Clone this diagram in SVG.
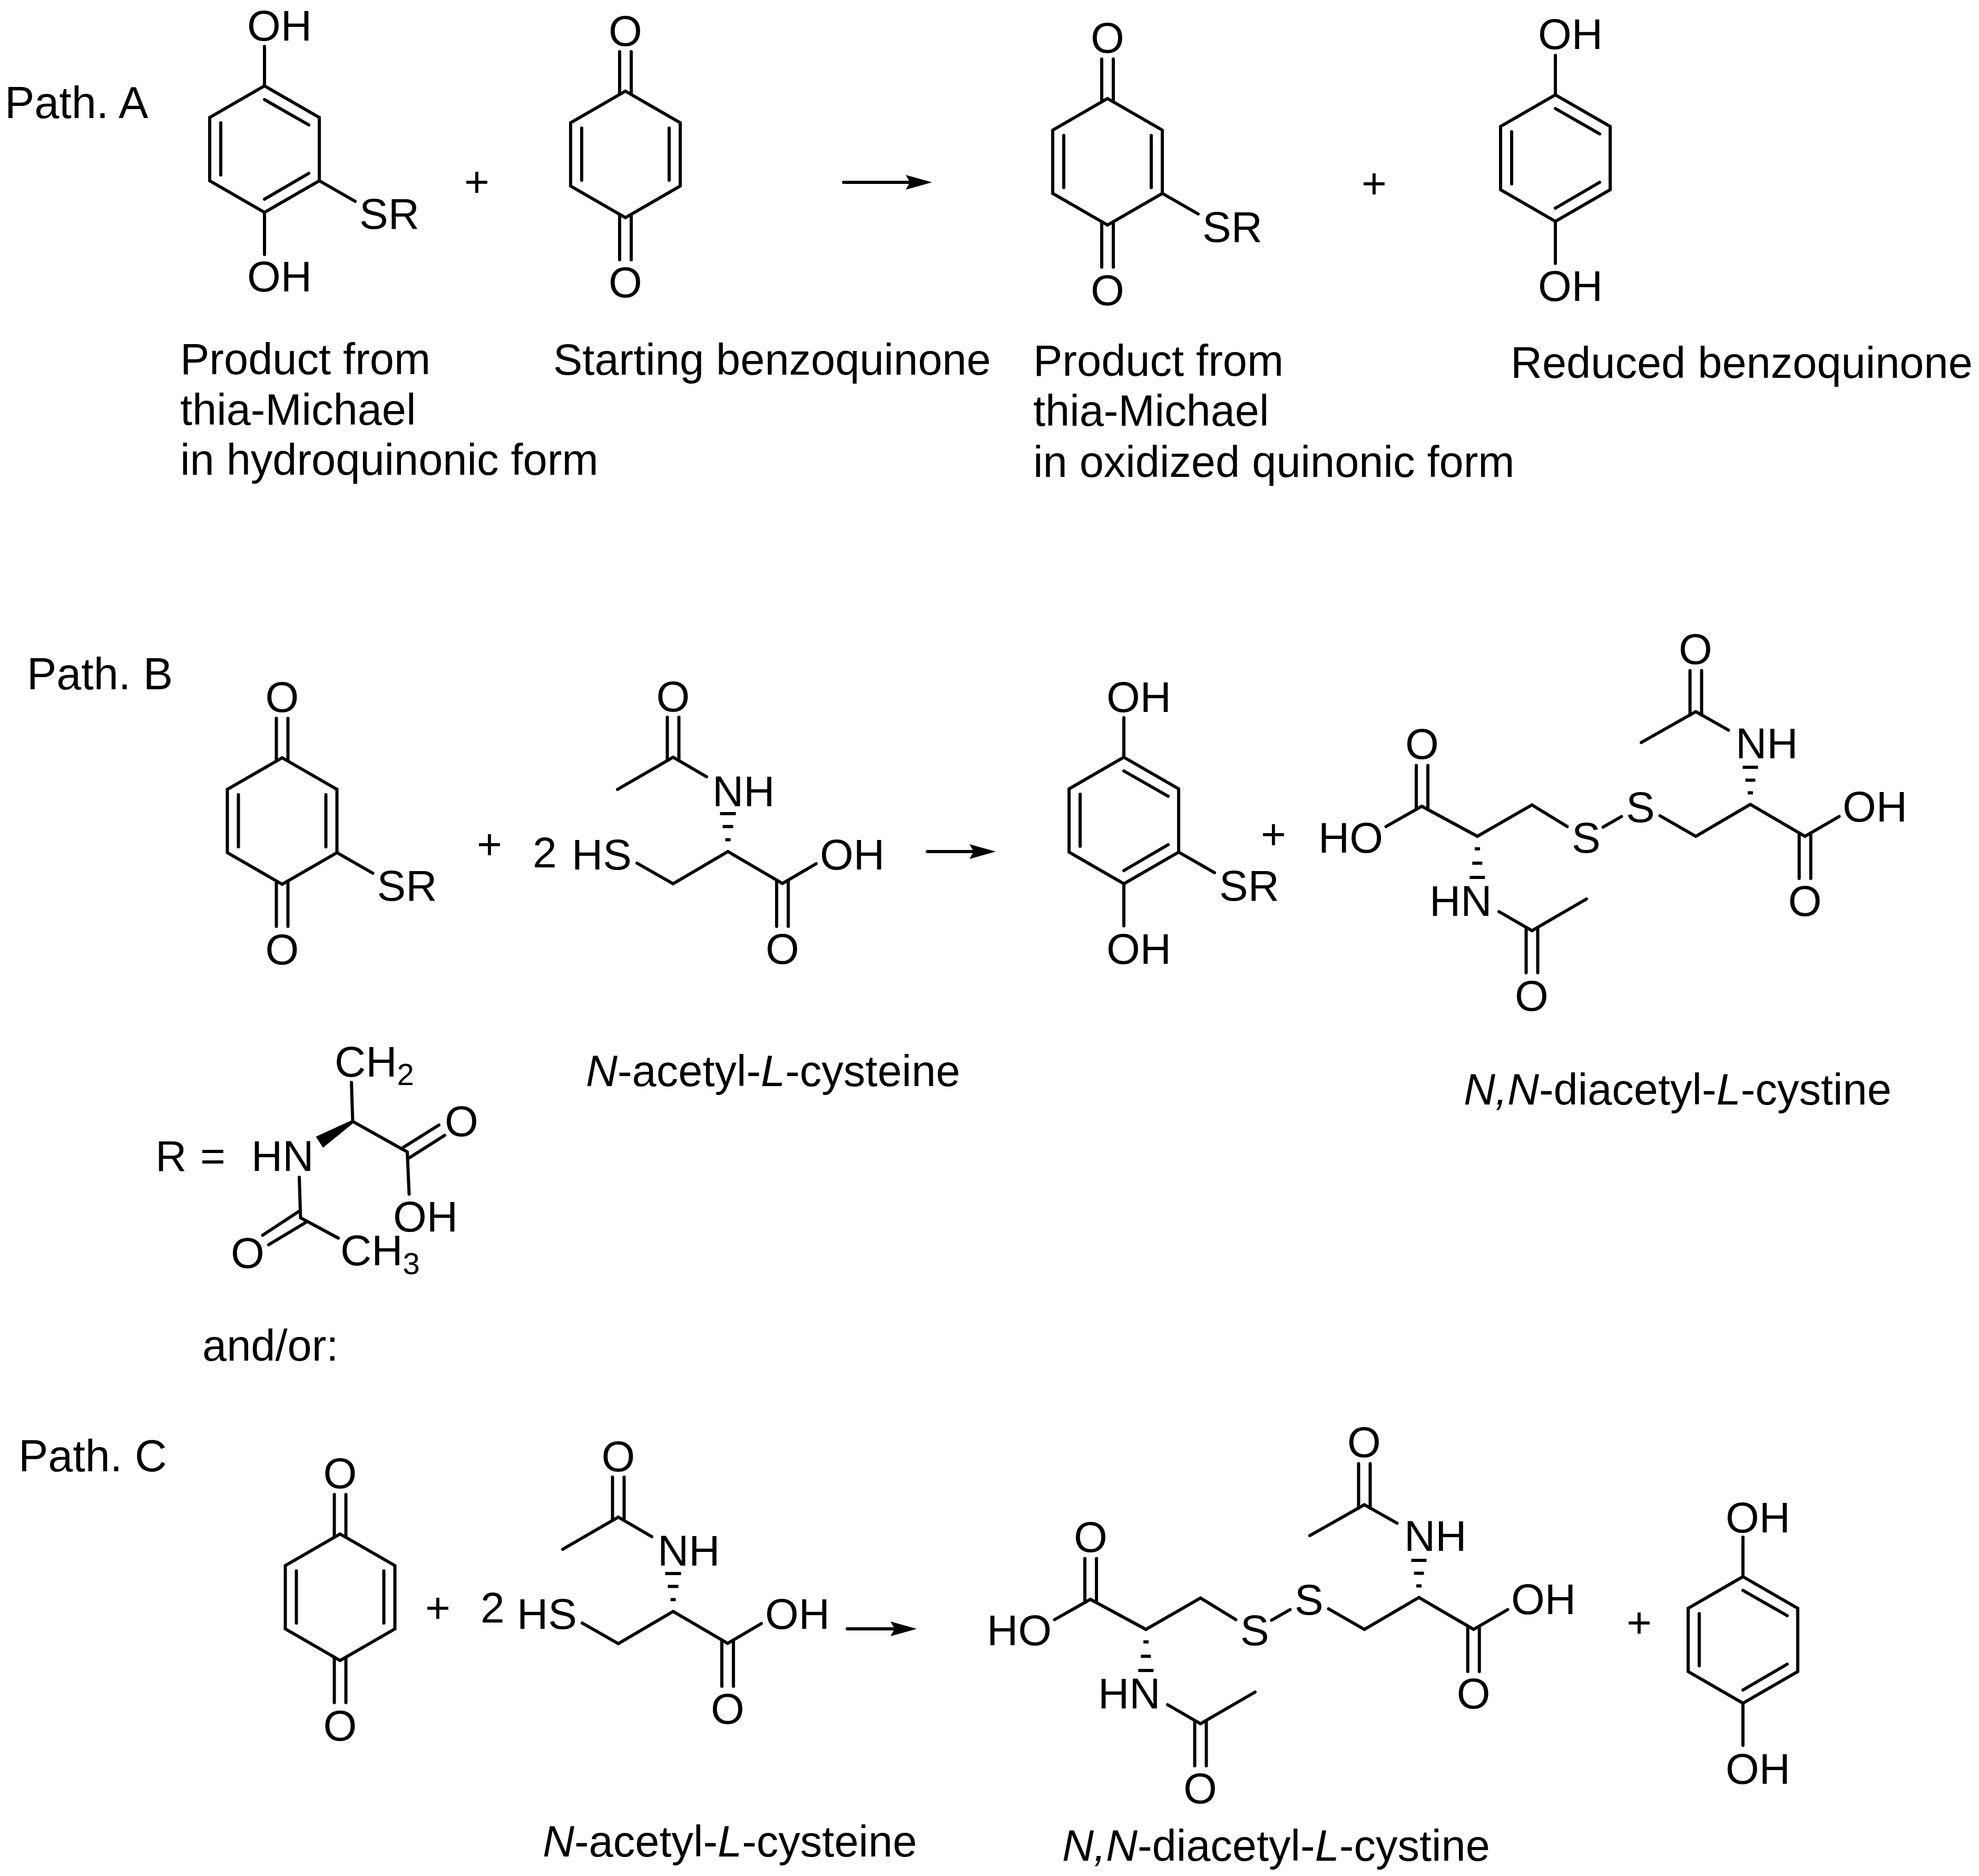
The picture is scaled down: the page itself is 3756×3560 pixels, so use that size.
<svg xmlns="http://www.w3.org/2000/svg" width="3756" height="3560" viewBox="0 0 3756 3560">
<style>
text{font-family:"Liberation Sans",Arial,sans-serif;font-size:82px;fill:#000}
.c{font-size:83px}
.p{font-size:84.500px}
.m{text-anchor:middle}
.s{font-size:58px}
.b{fill:none;stroke:#000;stroke-width:6;stroke-linecap:round;stroke-linejoin:miter}
.h{fill:none;stroke:#000;stroke-width:6}
.w{fill:#000;stroke:none}
</style>
<defs>
<marker id="arrow" markerUnits="userSpaceOnUse" markerWidth="54" markerHeight="30" refX="20" refY="15" orient="auto" overflow="visible"><path d="M0 1L50 15L0 29L8 15Z" fill="#000"/></marker>
<path id="ring" class="b" d="M0 0L104 60V180L0 240L-104 180V60Z"/>
<path id="quinoneBonds" class="b" d="M-83 70V169M83 70V169M-11 6V-75M11 6V-75M-11 234V320M11 234V320"/>
<path id="hydroBonds" class="b" d="M-83 70V169M0 26L84 74M84 166L0 215M0 0V-75M0 240V320"/>
<path id="srBond" class="b" d="M104 180L172 219"/>
</defs>
<rect width="3756" height="3560" fill="#fff"/>

<g id="path-labels">
<text class="p" x="9" y="224">Path. A</text>
<text class="p" x="51" y="1308">Path. B</text>
<text class="p" x="35" y="2792">Path. C</text>
</g>

<g id="connectors">
<path class="b" d="M1601 346H1739" marker-end="url(#arrow)"/>
<path class="b" d="M1760 1616H1860" marker-end="url(#arrow)"/>
<path class="b" d="M1608 3091H1710" marker-end="url(#arrow)"/>
</g>

<g id="plus-signs">
<text class="m" x="905" y="373">+</text>
<text class="m" x="2608" y="376">+</text>
<text class="m" x="929" y="1630">+</text>
<text class="m" x="2417" y="1611">+</text>
<text class="m" x="831" y="3079">+</text>
<text class="m" x="3111" y="3107">+</text>
</g>

<g id="a-hydroquinone-sr" transform="translate(502 163)">
<use href="#ring"/><use href="#hydroBonds"/><use href="#srBond"/>
<text x="-33" y="-86">OH</text><text x="-33" y="390">OH</text><text x="180" y="271">SR</text>
</g>
<g id="a-benzoquinone" transform="translate(1187 173)">
<use href="#ring"/><use href="#quinoneBonds"/>
<text class="m" x="0" y="-86">O</text><text class="m" x="0" y="391">O</text>
</g>
<g id="a-quinone-sr" transform="translate(2102 187)">
<use href="#ring"/><use href="#quinoneBonds"/><use href="#srBond"/>
<text class="m" x="0" y="-87">O</text><text class="m" x="0" y="392">O</text><text x="180" y="272">SR</text>
</g>
<g id="a-hydroquinone" transform="translate(2952 180)">
<use href="#ring"/><use href="#hydroBonds"/>
<text x="-33" y="-87">OH</text><text x="-33" y="391">OH</text>
</g>

<g id="a-labels">
<text class="c" x="342" y="710">Product from</text>
<text class="c" x="342" y="806">thia-Michael</text>
<text class="c" x="342" y="901">in hydroquinonic form</text>
<text class="c" x="1050" y="711">Starting benzoquinone</text>
<text class="c" x="1961" y="713">Product from</text>
<text class="c" x="1961" y="808">thia-Michael</text>
<text class="c" x="1961" y="905">in oxidized quinonic form</text>
<text class="c" x="2867" y="717">Reduced benzoquinone</text>
</g>

<g id="b-quinone-sr" transform="translate(535.500 1438)">
<use href="#ring"/><use href="#quinoneBonds"/><use href="#srBond"/>
<text class="m" x="0" y="-87">O</text><text class="m" x="0" y="392">O</text><text x="180" y="271">SR</text>
</g>

<g id="b-nac">
<text x="1011" y="1646">2</text>
<text x="1085" y="1650">HS</text>
<path class="b" d="M1209 1638L1277.500 1677L1381.500 1616L1485 1676.500L1549 1639"/>
<path class="b" d="M1474 1670V1758M1496 1670V1758"/>
<path class="h" d="M1376.500 1593.500h10M1371.500 1568.500h20M1366.500 1544h30"/>
<path class="b" d="M1341 1474L1277.500 1437L1172 1498"/>
<path class="b" d="M1266.500 1443V1361M1288.500 1443V1361"/>
<text class="m" x="1277.500" y="1350">O</text>
<text x="1352" y="1530">NH</text>
<text x="1556" y="1650">OH</text>
<text class="m" x="1485" y="1829">O</text>
</g>

<g id="b-hydroquinone-sr" transform="translate(2133 1437)">
<use href="#ring"/><use href="#hydroBonds"/><use href="#srBond"/>
<text x="-33" y="-86">OH</text><text x="-33" y="392">OH</text><text x="181" y="272">SR</text>
</g>

<g id="b-disulfide">
<text x="2502" y="1618">HO</text>
<path class="b" d="M2630.500 1568.500L2698.500 1530L2803.800 1587L2907.500 1527.500L2974.500 1568.500"/>
<path class="b" d="M2688 1536V1452.500M2710 1536V1452.500"/>
<text class="m" x="2699" y="1440">O</text>
<path class="h" d="M2799 1610.700h10M2794.300 1638h19M2789.300 1665h29"/>
<text x="2713" y="1738">HN</text>
<path class="b" d="M2845 1730L2907.500 1766L3011 1706"/>
<path class="b" d="M2896.500 1760V1846M2918.500 1760V1846"/>
<text class="m" x="2907" y="1918">O</text>
<text x="2983" y="1618">S</text>
<path class="b" d="M3042.500 1569.500L3077.500 1549.500"/>
<text x="3086" y="1560">S</text>
<path class="b" d="M3150.500 1548L3218.500 1587L3322 1526.500L3425.700 1587L3490.500 1549.500"/>
<path class="b" d="M3414.700 1581V1667M3436.700 1581V1667"/>
<text class="m" x="3425.700" y="1738">O</text>
<text x="3497" y="1559">OH</text>
<path class="h" d="M3317 1504.600h10M3312.500 1480.600h19M3307.500 1456h29"/>
<text x="3294" y="1439">NH</text>
<path class="b" d="M3280.500 1385.500L3218.500 1350.500L3115 1409"/>
<path class="b" d="M3207.500 1357V1272.500M3229.500 1357V1272.500"/>
<text class="m" x="3218" y="1260">O</text>
</g>

<g id="b-r-group">
<text x="295" y="2222" word-spacing="3">R =</text>
<text x="477" y="2222">HN</text>
<text x="635" y="2043">CH<tspan class="s" dy="16">2</tspan></text>
<path class="b" d="M667 2054L669.400 2128L773 2186L776.500 2266"/>
<path class="w" d="M669.400 2125L672 2130L613 2178L599.500 2157Z"/>
<path class="b" d="M766 2177L833 2135M777 2197L844 2154.500"/>
<text x="844" y="2156">O</text>
<text x="746" y="2337">OH</text>
<path class="b" d="M568 2234L570.400 2311L642 2349.500"/>
<path class="b" d="M567 2299L498.500 2344M581.600 2319L510 2362"/>
<text x="438" y="2406">O</text>
<text x="646" y="2401">CH<tspan class="s" dy="17">3</tspan></text>
<text class="c" x="384" y="2582">and/or:</text>
</g>

<g id="b-labels">
<text class="c" x="1112" y="2061"><tspan font-style="italic">N</tspan>-acetyl-<tspan font-style="italic">L</tspan>-cysteine</text>
<text class="c" x="2778" y="2096"><tspan font-style="italic">N,N</tspan>-diacetyl-<tspan font-style="italic">L</tspan>-cystine</text>
</g>

<g id="c-benzoquinone" transform="translate(645.500 2911)">
<use href="#ring"/><use href="#quinoneBonds"/>
<text class="m" x="0" y="-87">O</text><text class="m" x="0" y="392">O</text>
</g>

<g id="c-nac" transform="translate(-104 1442)">
<text x="1016" y="1637">2</text>
<text x="1085" y="1649">HS</text>
<path class="b" d="M1209 1638L1277.500 1677L1381.500 1616L1485 1676.500L1549 1639"/>
<path class="b" d="M1474 1670V1758M1496 1670V1758"/>
<path class="h" d="M1376.500 1593.500h10M1371.500 1568.500h20M1366.500 1544h30"/>
<path class="b" d="M1341 1474L1277.500 1437L1172 1498"/>
<path class="b" d="M1266.500 1443V1361M1288.500 1443V1361"/>
<text class="m" x="1277.500" y="1350">O</text>
<text x="1352" y="1529">NH</text>
<text x="1556" y="1649">OH</text>
<text class="m" x="1485" y="1829">O</text>
</g>

<g id="c-disulfide" transform="translate(-629 1505)">
<text x="2502" y="1617">HO</text>
<path class="b" d="M2630.500 1568.500L2698.500 1530L2803.800 1587L2907.500 1527.500L2974.500 1568.500"/>
<path class="b" d="M2688 1536V1452.500M2710 1536V1452.500"/>
<text class="m" x="2699" y="1440">O</text>
<path class="h" d="M2799 1610.700h10M2794.300 1638h19M2789.300 1665h29"/>
<text x="2713" y="1737">HN</text>
<path class="b" d="M2845 1730L2907.500 1766L3011 1706"/>
<path class="b" d="M2896.500 1760V1846M2918.500 1760V1846"/>
<text class="m" x="2907" y="1917">O</text>
<text x="2983" y="1617">S</text>
<path class="b" d="M3042.500 1569.500L3077.500 1549.500"/>
<text x="3086" y="1559">S</text>
<path class="b" d="M3150.500 1548L3218.500 1587L3322 1526.500L3425.700 1587L3490.500 1549.500"/>
<path class="b" d="M3414.700 1581V1667M3436.700 1581V1667"/>
<text class="m" x="3425.700" y="1737">O</text>
<text x="3497" y="1558">OH</text>
<path class="h" d="M3317 1504.600h10M3312.500 1480.600h19M3307.500 1456h29"/>
<text x="3294" y="1438">NH</text>
<path class="b" d="M3280.500 1385.500L3218.500 1350.500L3115 1409"/>
<path class="b" d="M3207.500 1357V1272.500M3229.500 1357V1272.500"/>
<text class="m" x="3218" y="1260">O</text>
</g>

<g id="c-hydroquinone" transform="translate(3308 2992)">
<use href="#ring"/><use href="#hydroBonds"/>
<text x="-33" y="-84">OH</text><text x="-33" y="393">OH</text>
</g>

<g id="c-labels">
<text class="c" x="1030" y="3523"><tspan font-style="italic">N</tspan>-acetyl-<tspan font-style="italic">L</tspan>-cysteine</text>
<text class="c" x="2016" y="3531"><tspan font-style="italic">N,N</tspan>-diacetyl-<tspan font-style="italic">L</tspan>-cystine</text>
</g>
</svg>
